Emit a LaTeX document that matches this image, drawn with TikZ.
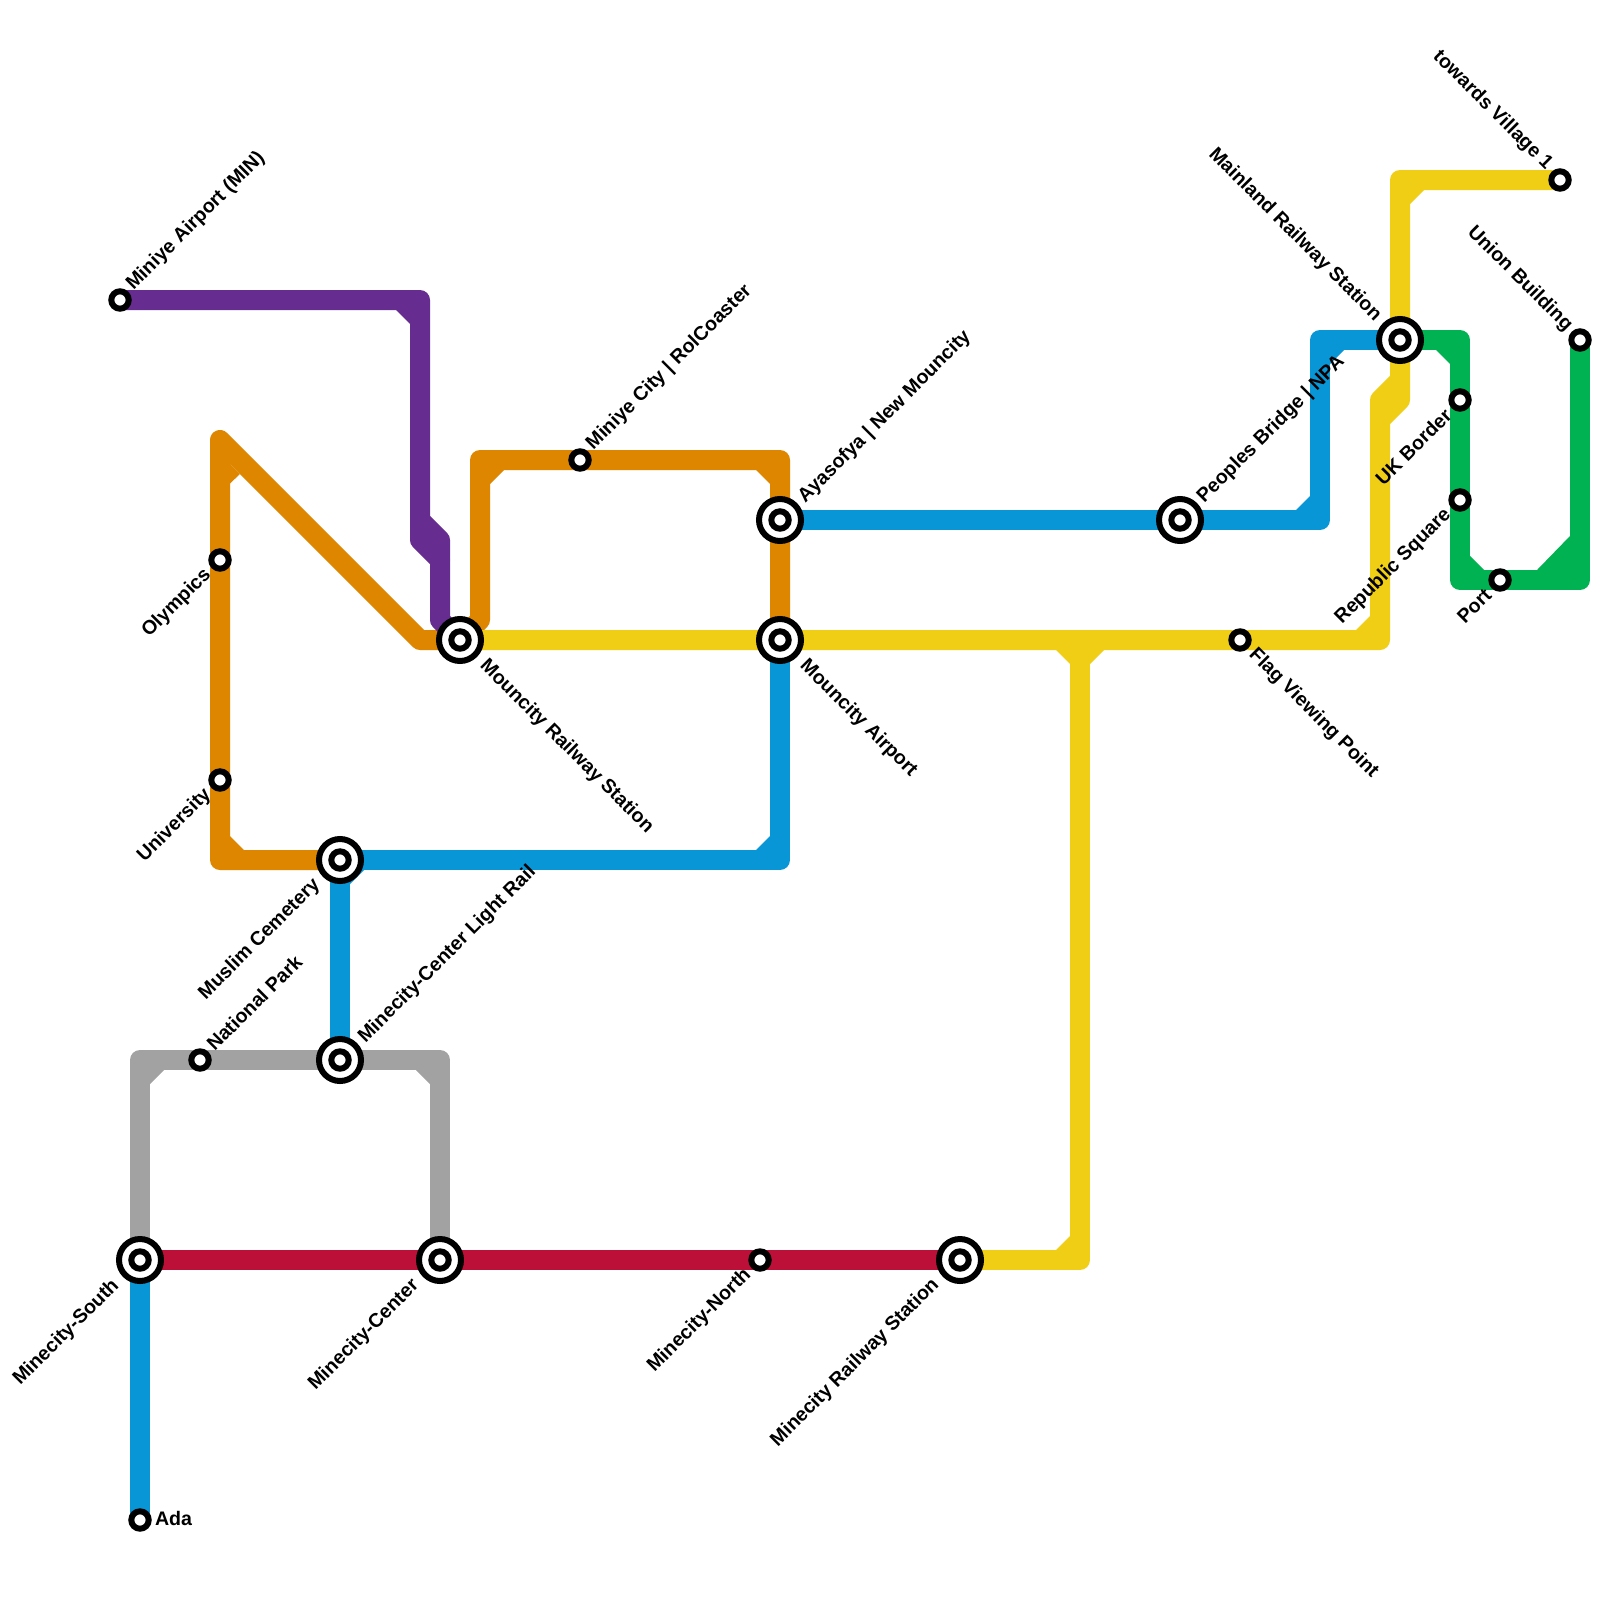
\documentclass[tikz,border=0pt]{standalone}
\usepackage{fontspec}
\setmainfont{Liberation Sans}
\pgfdeclarelayer{bg}
\pgfsetlayers{bg,main}
\definecolor{cpurple}{HTML}{662C90}
\definecolor{corange}{HTML}{DF8600}
\definecolor{cyellow}{HTML}{F0CE15}
\definecolor{cblue}{HTML}{0896D7}
\definecolor{cgreen}{HTML}{00B251}
\definecolor{cgray}{HTML}{A2A2A2}
\definecolor{cred}{HTML}{BD1038}
\tikzset{
  x=1pt,y=-1pt,
  rail/.style={line width=20pt,line join=round,line cap=butt},
  stop/.style={circle,draw=black,fill=white,line width=6pt,inner sep=0pt,outer sep=0pt,minimum size=17.4pt},
  hub/.style={circle,draw=black,fill=white,line width=6pt,inner sep=0pt,outer sep=0pt,minimum size=42pt,
    path picture={\draw[black,fill=white,line width=6pt] (path picture bounding box.center) circle (8.7pt);}},
  lbl/.style={font=\bfseries\fontsize{19.6}{22}\selectfont,inner sep=0pt,outer sep=0pt,text=black},
  ne/.style={lbl,anchor=west,rotate=45},
  sw/.style={lbl,anchor=east,rotate=45},
  se/.style={lbl,anchor=west,rotate=-45},
  nw/.style={lbl,anchor=east,rotate=-45},
}
\begin{document}
\begin{tikzpicture}
\useasboundingbox (0,0) rectangle (1600,1600);
% stations
\node[stop] (airport) at (120,300) {};
\node[stop] (olympics) at (220,560) {};
\node[stop] (university) at (220,780) {};
\node[hub] (muslim) at (340,860) {};
\node[hub] (lightrail) at (340,1060) {};
\node[stop] (natpark) at (200,1060) {};
\node[hub] (south) at (140,1260) {};
\node[stop] (ada) at (140,1520) {};
\node[hub] (center) at (440,1260) {};
\node[stop] (north) at (760,1260) {};
\node[hub] (minerail) at (960,1260) {};
\node[hub] (mourail) at (460,640) {};
\node[hub] (mouair) at (780,640) {};
\node[hub] (ayasofya) at (780,520) {};
\node[stop] (miniyecity) at (580,460) {};
\node[hub] (peoples) at (1180,520) {};
\node[stop] (flag) at (1240,640) {};
\node[hub] (mainland) at (1400,340) {};
\node[stop] (village) at (1560,180) {};
\node[stop] (union) at (1580,340) {};
\node[stop] (ukborder) at (1460,400) {};
\node[stop] (republic) at (1460,500) {};
\node[stop] (port) at (1500,580) {};
% lines
\begin{pgfonlayer}{bg}
\fill[white] (0,0) rectangle (1600,1600);
% gray
\draw[rail,cgray] (south.center) -- (140,1060) -- (440,1060) -- (center.center);
\fill[cgray] (150,1070) -- (164,1070) -- (150,1084) -- cycle;
\fill[cgray] (430,1070) -- (416,1070) -- (430,1084) -- cycle;
% orange
\draw[rail,corange] (mouair.center) -- (780,460) -- (480,460) -- (480,620) -- (mourail.center) -- (420,640) -- (220,440) -- (220,860) -- (muslim.center);
\fill[corange] (490,470) -- (504,470) -- (490,484) -- cycle;
\fill[corange] (770,470) -- (756,470) -- (770,484) -- cycle;
\fill[corange] (230,464) -- (230,483.5) -- (240,474) -- cycle;
\fill[corange] (230,850) -- (230,836) -- (244,850) -- cycle;
% purple
\draw[rail,cpurple] (airport.center) -- (420,300) -- (420,540) -- (440,560) -- (440,620) -- (mourail.center);
\draw[rail,cpurple] (420,520) -- (440,540) -- (440,560);
\fill[cpurple] (410,310) -- (396,310) -- (410,324) -- cycle;
% blue
\draw[rail,cblue] (ada.center) -- (south.center);
\draw[rail,cblue] (lightrail.center) -- (muslim.center) -- (780,860) -- (mouair.center);
\draw[rail,cblue] (ayasofya.center) -- (1320,520) -- (1320,340) -- (mainland.center);
\fill[cblue] (770,850) -- (756,850) -- (770,836) -- cycle;
\fill[cblue] (350,870) -- (364,870) -- (350,884) -- cycle;
\fill[cblue] (1310,510) -- (1296,510) -- (1310,496) -- cycle;
\fill[cblue] (1330,350) -- (1344,350) -- (1330,364) -- cycle;
% green
\draw[rail,cgreen] (mainland.center) -- (1460,340) -- (1460,580) -- (1580,580) -- (union.center);
\fill[cgreen] (1450,350) -- (1436,350) -- (1450,364) -- cycle;
\fill[cgreen] (1470,570) -- (1470,556) -- (1484,570) -- cycle;
\fill[cgreen] (1570,570) -- (1537,570) -- (1570,536) -- cycle;
% yellow
\draw[rail,cyellow] (mourail.center) -- (1380,640) -- (1380,420) -- (1400,400) -- (1400,180) -- (village.center);
\draw[rail,cyellow] (1400,380) -- (1380,400) -- (1380,420);
\draw[rail,cyellow] (1080,640) -- (1080,1260) -- (minerail.center);
\fill[cyellow] (1070,650) -- (1056,650) -- (1070,664) -- cycle;
\fill[cyellow] (1090,650) -- (1104,650) -- (1090,664) -- cycle;
\fill[cyellow] (1070,1250) -- (1056,1250) -- (1070,1236) -- cycle;
\fill[cyellow] (1370,630) -- (1356,630) -- (1370,616) -- cycle;
\fill[cyellow] (1410,190) -- (1424,190) -- (1410,204) -- cycle;
% red
\draw[rail,cred] (south.center) -- (minerail.center);
\end{pgfonlayer}
% labels
\node[ne] (tairport) at ([shift={(10,-13)}]airport.center) {Miniye Airport (MIN)};
\node[sw] (tolympics) at ([shift={(-12,12)}]olympics.center) {Olympics};
\node[sw] (tuniversity) at ([shift={(-12,12)}]university.center) {University};
\node[sw] (tmuslim) at ([shift={(-23,22)}]muslim.center) {Muslim Cemetery};
\node[ne] (tlightrail) at ([shift={(22,-20)}]lightrail.center) {Minecity-Center Light Rail};
\node[ne] (tnatpark) at ([shift={(10,-13)}]natpark.center) {National Park};
\node[sw] (tsouth) at ([shift={(-24,23)}]south.center) {Minecity-South};
\node[lbl,anchor=west] (tada) at ([shift={(15,-2)}]ada.center) {Ada};
\node[sw] (tcenter) at ([shift={(-24,23)}]center.center) {Minecity-Center};
\node[sw] (tnorth) at ([shift={(-12,12)}]north.center) {Minecity-North};
\node[sw] (tminerail) at ([shift={(-24,22)}]minerail.center) {Minecity Railway Station};
\node[se] (tmourail) at ([shift={(23,23)}]mourail.center) {Mouncity Railway Station};
\node[se] (tmouair) at ([shift={(23,23)}]mouair.center) {Mouncity Airport};
\node[ne] (tayasofya) at ([shift={(22,-20)}]ayasofya.center) {Ayasofya | New Mouncity};
\node[ne] (tminiyecity) at ([shift={(10,-13)}]miniyecity.center) {Miniye City | RolCoaster};
\node[ne] (tpeoples) at ([shift={(21,-20)}]peoples.center) {Peoples Bridge | NPA};
\node[se] (tflag) at ([shift={(12,12)}]flag.center) {Flag Viewing Point};
\node[nw] (tmainland) at ([shift={(-22,-22)}]mainland.center) {Mainland Railway Station};
\node[nw] (tvillage) at ([shift={(-11,-13)}]village.center) {towards Village 1};
\node[nw] (tunion) at ([shift={(-11,-12)}]union.center) {Union Building};
\node[sw] (tukborder) at ([shift={(-12,12)}]ukborder.center) {UK Border};
\node[sw] (trepublic) at ([shift={(-12,12)}]republic.center) {Republic Square};
\node[sw] (tport) at ([shift={(-12,12)}]port.center) {Port};
\end{tikzpicture}
\end{document}
